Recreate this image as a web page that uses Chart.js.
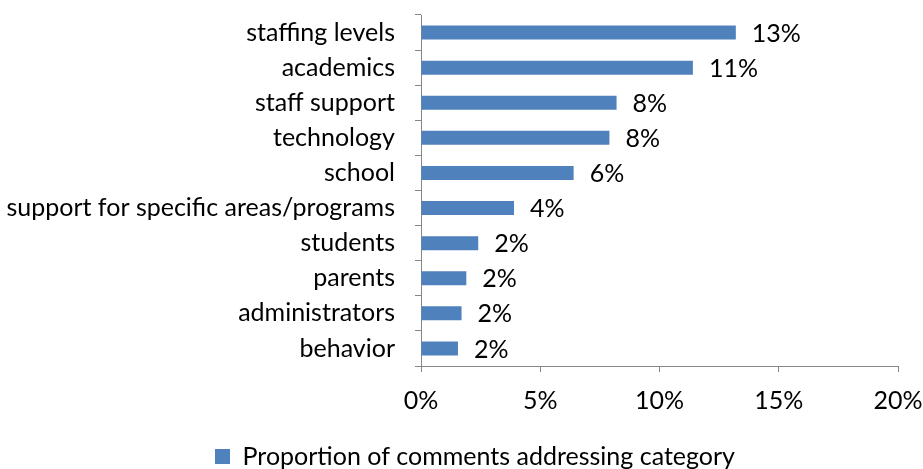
<!DOCTYPE html>
<html>
<head>
<meta charset="utf-8">
<script src="https://cdn.jsdelivr.net/npm/chart.js@4"></script>
<style>
  html, body { margin: 0; padding: 0; background: #fff; }
  #wrap { width: 923px; height: 469px; }
</style>
</head>
<body>
<div id="wrap"><canvas id="chart"></canvas></div>
<script>
// categories, top to bottom
const categories = [
  'staffing levels', 'academics', 'staff support', 'technology', 'school',
  'support for specific areas/programs', 'students', 'parents',
  'administrators', 'behavior'
];
// proportion of comments, in percent
const proportions = [13.2, 11.4, 8.2, 7.9, 6.4, 3.9, 2.4, 1.9, 1.7, 1.55];
const seriesName = 'Proportion of comments addressing category';
const xTicks = [0, 5, 10, 15, 20];

const FONT = 'Lato';
const FSIZE = 25;
const axisGrey = '#868686';

// value labels at the end of each bar
const barLabels = {
  id: 'barLabels',
  afterLayout(chart) {
    // the legend sits a little right of centre and lower in the original
    const lg = chart.legend;
    if (lg) {
      lg.left += 26; lg.right += 26;
      lg.top += 10; lg.bottom += 10;
    }
  },
  afterDatasetsDraw(chart) {
    const ctx = chart.ctx;
    const meta = chart.getDatasetMeta(0);
    ctx.save();
    ctx.font = FSIZE + 'px "' + FONT + '"';
    ctx.fillStyle = '#000';
    ctx.textAlign = 'left';
    ctx.textBaseline = 'middle';
    meta.data.forEach((bar, i) => {
      ctx.fillText(Math.round(proportions[i]) + '%', bar.x + 16, bar.y + 1);
    });
    ctx.restore();
  }
};

new Chart(document.getElementById('chart'), {
  type: 'bar',
  data: {
    labels: categories,
    datasets: [{
      label: seriesName,
      data: proportions,
      backgroundColor: '#4F81BD',
      borderWidth: 0,
      barPercentage: 0.4,
      categoryPercentage: 1
    }]
  },
  options: {
    indexAxis: 'y',
    responsive: true,
    maintainAspectRatio: false,
    animation: false,
    layout: { padding: { top: 15, right: 25, left: 0, bottom: 0 } },
    scales: {
      x: {
        min: 0,
        max: 20,
        afterBuildTicks(scale) {
          scale.ticks = xTicks.map(v => ({ value: v }));
        },
        afterFit(scale) { scale.height = 64; scale.paddingLeft = 0; scale.paddingRight = 0; },
        border: { color: axisGrey, width: 1 },
        grid: { drawOnChartArea: false, color: axisGrey, tickLength: 6 },
        ticks: {
          color: '#000',
          padding: 14,
          font: { family: FONT, size: FSIZE },
          callback: v => v + '%'
        }
      },
      y: {
        afterFit(scale) { scale.width = 421; scale.paddingTop = 0; scale.paddingBottom = 0; },
        border: { color: axisGrey, width: 1 },
        grid: { drawOnChartArea: false, color: axisGrey, tickLength: 6, offset: true },
        ticks: {
          color: '#000',
          padding: 20,
          font: { family: FONT, size: FSIZE }
        }
      }
    },
    plugins: {
      legend: {
        position: 'bottom',
        labels: {
          color: '#000',
          boxWidth: 15,
          boxHeight: 15,
          padding: 4,
          font: { family: FONT, size: FSIZE }
        }
      },
      tooltip: { enabled: false }
    }
  },
  plugins: [barLabels]
});
</script>
</body>
</html>
